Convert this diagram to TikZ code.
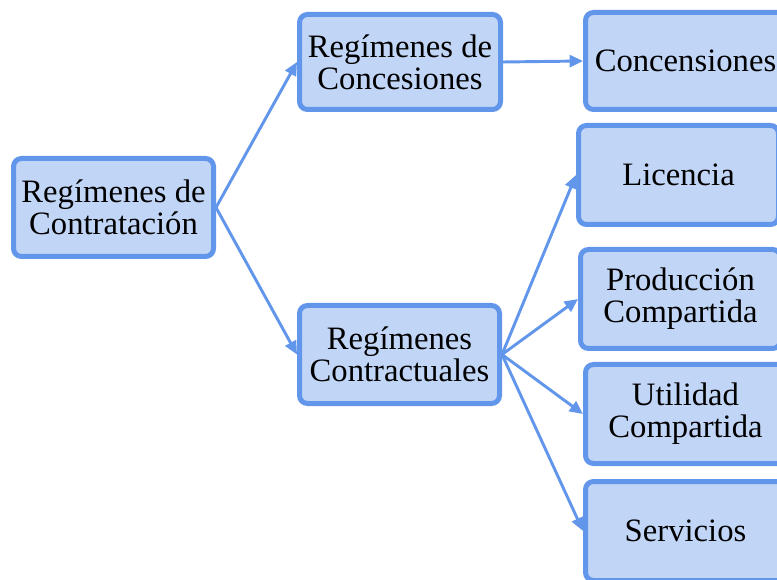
\documentclass[tikz,border=0pt]{standalone}
\usepackage{fontspec}
\setmainfont{Liberation Serif}
\usetikzlibrary{arrows.meta}
\definecolor{bordc}{RGB}{98,150,234}
\definecolor{fillc}{RGB}{193,213,246}
\tikzset{
  box/.style={draw=bordc, fill=fillc, line width=3.75pt, rounded corners=6pt,
    align=center, inner sep=0pt, font=\fontsize{24.5}{24}\selectfont},
  arr/.style={draw=bordc, line width=2.2pt, -{Triangle[length=10pt,width=9pt]}}
}
\begin{document}
\begin{tikzpicture}[x=0.75pt,y=-0.75pt]
\useasboundingbox (0,0) rectangle (777,580);
\clip (0,0) rectangle (777,580);
\node[box, minimum width=150pt, minimum height=73.5pt] (A) at (113.5,207.5) {Regímenes de\\Contratación};
\node[box, minimum width=150.75pt, minimum height=71.25pt] (B) at (400,62) {Regímenes de\\Concesiones};
\node[box, minimum width=150pt, minimum height=73.5pt] (C) at (399.5,354.5) {Regímenes\\Contractuales};
\node[box, minimum width=150pt, minimum height=72.75pt] (D) at (685.5,61) {Concensiones};
\node[box, minimum width=150pt, minimum height=74.25pt] (E) at (678.5,175) {Licencia};
\node[box, minimum width=150pt, minimum height=74.25pt] (F) at (680.5,299) {Producción\\Compartida};
\node[box, minimum width=150pt, minimum height=74.25pt] (G) at (685.5,414) {Utilidad\\Compartida};
\node[box, minimum width=150pt, minimum height=74.25pt] (H) at (685.5,531) {Servicios};
\draw[arr] (A.east) -- (B.west);
\draw[arr] (A.east) -- (C.west);
\draw[arr] (B.east) -- (D.west);
\draw[arr] (C.east) -- (E.west);
\draw[arr] (C.east) -- (F.west);
\draw[arr] (C.east) -- (G.west);
\draw[arr] (C.east) -- (H.west);
\end{tikzpicture}
\end{document}
